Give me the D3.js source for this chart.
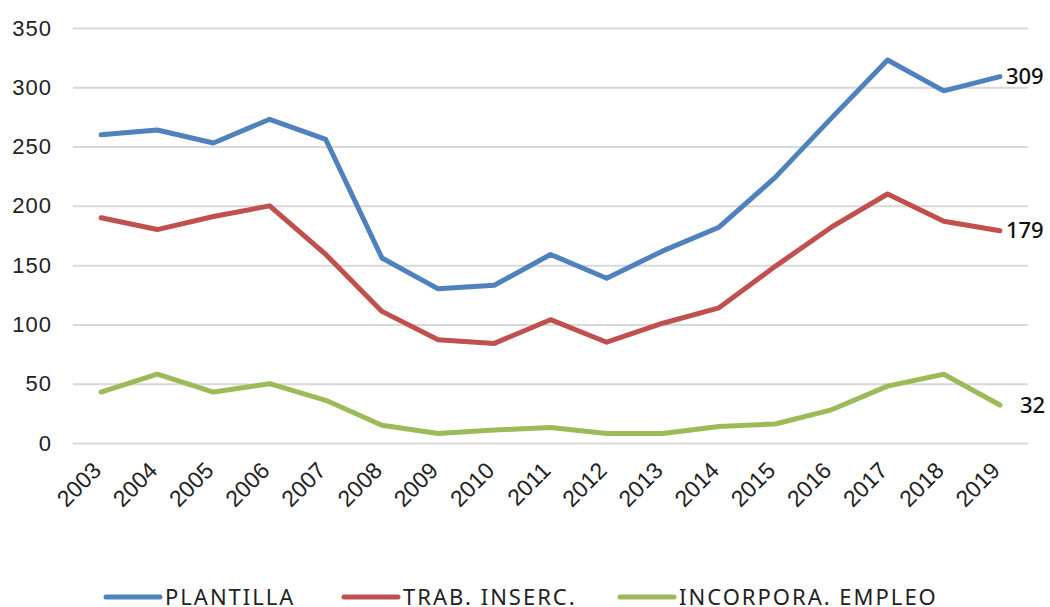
<!DOCTYPE html>
<html>
<head>
<meta charset="utf-8">
<script src="https://cdn.jsdelivr.net/npm/d3@7"></script>
<style>
  body { margin: 0; background: #fff; }
  svg { display: block; font-family: "Noto Sans", sans-serif; }
</style>
</head>
<body>
<svg></svg>
<script>
const years = ["2003","2004","2005","2006","2007","2008","2009","2010","2011","2012","2013","2014","2015","2016","2017","2018","2019"];
const plantilla = [260,264,253,273,256,156,130,133,159,139,162,182,224,274,323,297,309];
const trabInserc = [190,180,191,200,159,111,87,84,104,85,101,114,149,182,210,187,179];
const incorpora = [43,58,43,50,36,15,8,11,13,8,8,14,16,28,48,58,32];
const seriesNames = ["PLANTILLA", "TRAB. INSERC.", "INCORPORA. EMPLEO"];
const yTicks = [0,50,100,150,200,250,300,350];

const colors = ["#4F81BD", "#C0504D", "#9BBB59"];
const allSeries = [plantilla, trabInserc, incorpora];

const width = 1050, height = 607;
const svg = d3.select('svg').attr('width', width).attr('height', height);
const margin = { top: 28, right: 22, bottom: 164, left: 73 };
const innerWidth = width - margin.left - margin.right;
const innerHeight = height - margin.top - margin.bottom;
const g = svg.append('g').attr('transform', `translate(${margin.left},${margin.top})`);

const xScale = d3.scalePoint().domain(years).range([0, innerWidth]).padding(0.5);
const yScale = d3.scaleLinear().domain([0, 350]).range([innerHeight, 0]);

// gridlines + y labels
const yAxis = d3.axisLeft(yScale).tickValues(yTicks).tickSize(-innerWidth).tickPadding(21);
const gy = g.append('g').call(yAxis);
gy.select('.domain').remove();
gy.selectAll('.tick line').attr('stroke', '#d9d9d9').attr('stroke-width', 2);
gy.selectAll('.tick text').attr('fill', '#222').style('font-size', '22px').style('letter-spacing', '1px');

// x labels
const xAxis = d3.axisBottom(xScale).tickSize(0).tickPadding(0);
const gx = g.append('g').attr('transform', `translate(0,${innerHeight})`).call(xAxis);
gx.select('.domain').remove();
gx.selectAll('.tick text')
  .attr('fill', '#222')
  .style('font-size', '23px')
  .attr('text-anchor', 'end')
  .attr('dy', 0)
  .attr('transform', 'translate(1,29) rotate(-45)');

// lines
const line = d3.line().x((d, i) => xScale(years[i])).y(d => yScale(d));
allSeries.forEach((s, k) => {
  g.append('path').datum(s)
    .attr('fill', 'none')
    .attr('stroke', colors[k])
    .attr('stroke-width', 5)
    .attr('stroke-linejoin', 'round')
    .attr('stroke-linecap', 'round')
    .attr('d', line);
  const last = s[s.length - 1];
  g.append('text')
    .attr('x', xScale(years[years.length - 1]) + (k === 2 ? 20 : 6))
    .attr('y', yScale(last))
    .attr('dy', '0.35em')
    .attr('fill', '#111')
    .style('font-size', '22px')
    .style('font-weight', 500)
    .text(last);
});

// legend
const legendY = 597;
const legendX = [106, 344, 620];
seriesNames.forEach((name, k) => {
  const lg = svg.append('g').attr('transform', `translate(${legendX[k]},${legendY})`);
  lg.append('line').attr('x1', 0).attr('x2', 54).attr('y1', 0).attr('y2', 0)
    .attr('stroke', colors[k]).attr('stroke-width', 5).attr('stroke-linecap', 'round');
  lg.append('text').attr('x', 59).attr('y', 0).attr('dy', '0.36em')
    .attr('fill', '#222').style('font-size', '22px').style('letter-spacing', '2px').text(name);
});
</script>
</body>
</html>
